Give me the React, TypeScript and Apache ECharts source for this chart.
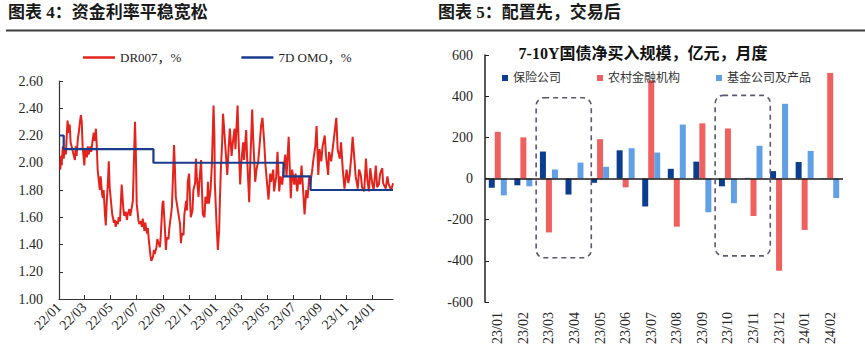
import React, { useEffect, useRef } from "react";
import * as echarts from "echarts";

const FONT = "'Times New Roman', 'Liberation Serif', 'Noto Sans CJK SC', serif";

const leftTitle = "图表 4：资金利率平稳宽松";
const rightTitle = "图表 5：配置先，交易后";
const rightSubtitle = "7-10Y国债净买入规模，亿元，月度";

const lineNames = ["DR007，%", "7D OMO，%"];
const xTickLabels = ["22/01", "22/03", "22/05", "22/07", "22/09", "22/11", "23/01", "23/03", "23/05", "23/07", "23/09", "23/11", "24/01"];
const xStart = "2022-01-01";
const xEnd = "2024-02-18";

const dr007: [string, number][] = [
  ["2022-01-04", 1.95], ["2022-01-06", 2.05], ["2022-01-07", 1.98], ["2022-01-10", 2.12], ["2022-01-12", 2.03],
  ["2022-01-14", 2.10], ["2022-01-17", 2.06], ["2022-01-19", 2.20], ["2022-01-21", 2.31], ["2022-01-24", 2.22],
  ["2022-01-26", 2.28], ["2022-01-28", 2.15], ["2022-02-07", 2.02], ["2022-02-09", 2.12], ["2022-02-11", 2.05],
  ["2022-02-14", 2.18], ["2022-02-16", 2.22], ["2022-02-18", 2.28], ["2022-02-21", 2.35], ["2022-02-23", 2.30],
  ["2022-02-25", 2.12], ["2022-03-01", 1.98], ["2022-03-03", 2.10], ["2022-03-07", 2.04], ["2022-03-09", 2.12],
  ["2022-03-11", 2.06], ["2022-03-15", 2.12], ["2022-03-17", 2.08], ["2022-03-21", 2.18], ["2022-03-23", 2.22],
  ["2022-03-25", 2.16], ["2022-03-28", 2.25], ["2022-03-30", 2.12], ["2022-04-01", 1.95], ["2022-04-06", 1.80],
  ["2022-04-08", 1.90], ["2022-04-11", 1.78], ["2022-04-13", 1.74], ["2022-04-15", 1.80], ["2022-04-18", 1.62],
  ["2022-04-20", 1.54], ["2022-04-22", 1.70], ["2022-04-25", 1.86], ["2022-04-27", 2.01], ["2022-04-29", 1.82],
  ["2022-05-05", 1.62], ["2022-05-09", 1.56], ["2022-05-11", 1.58], ["2022-05-13", 1.53], ["2022-05-16", 1.57],
  ["2022-05-18", 1.55], ["2022-05-20", 1.60], ["2022-05-23", 1.57], ["2022-05-25", 1.70], ["2022-05-27", 1.84],
  ["2022-05-31", 1.66], ["2022-06-02", 1.61], ["2022-06-06", 1.64], ["2022-06-08", 1.58], ["2022-06-10", 1.62],
  ["2022-06-14", 1.66], ["2022-06-16", 1.61], ["2022-06-20", 1.68], ["2022-06-22", 1.72], ["2022-06-24", 1.95],
  ["2022-06-27", 2.30], ["2022-06-29", 2.08], ["2022-07-01", 1.70], ["2022-07-05", 1.58], ["2022-07-07", 1.55],
  ["2022-07-11", 1.57], ["2022-07-13", 1.53], ["2022-07-15", 1.59], ["2022-07-19", 1.50], ["2022-07-21", 1.56],
  ["2022-07-25", 1.48], ["2022-07-27", 1.52], ["2022-07-29", 1.44], ["2022-08-02", 1.32], ["2022-08-04", 1.28],
  ["2022-08-08", 1.31], ["2022-08-10", 1.36], ["2022-08-12", 1.33], ["2022-08-16", 1.38], ["2022-08-18", 1.44],
  ["2022-08-22", 1.40], ["2022-08-24", 1.38], ["2022-08-26", 1.46], ["2022-08-30", 1.70], ["2022-09-01", 1.72],
  ["2022-09-05", 1.50], ["2022-09-07", 1.36], ["2022-09-09", 1.45], ["2022-09-13", 1.44], ["2022-09-15", 1.52],
  ["2022-09-19", 1.62], ["2022-09-21", 1.68], ["2022-09-23", 1.85], ["2022-09-26", 2.13], ["2022-09-28", 1.96],
  ["2022-09-30", 1.75], ["2022-10-10", 1.55], ["2022-10-12", 1.41], ["2022-10-14", 1.48], ["2022-10-18", 1.47],
  ["2022-10-20", 1.62], ["2022-10-24", 1.72], ["2022-10-26", 1.65], ["2022-10-28", 1.86], ["2022-10-31", 1.92],
  ["2022-11-02", 1.75], ["2022-11-04", 1.60], ["2022-11-08", 1.65], ["2022-11-10", 1.80], ["2022-11-14", 1.85],
  ["2022-11-16", 2.03], ["2022-11-18", 1.90], ["2022-11-22", 1.75], ["2022-11-24", 1.86], ["2022-11-28", 2.02],
  ["2022-11-30", 1.80], ["2022-12-02", 1.62], ["2022-12-06", 1.60], ["2022-12-08", 1.75], ["2022-12-12", 1.70],
  ["2022-12-14", 1.86], ["2022-12-16", 1.70], ["2022-12-20", 1.80], ["2022-12-23", 1.98], ["2022-12-27", 2.42],
  ["2022-12-29", 2.20], ["2022-12-30", 1.85], ["2023-01-03", 1.55], ["2023-01-06", 1.36], ["2023-01-09", 1.50],
  ["2023-01-11", 1.75], ["2023-01-13", 1.95], ["2023-01-16", 2.15], ["2023-01-18", 2.36], ["2023-01-20", 2.28],
  ["2023-01-28", 1.91], ["2023-01-31", 2.10], ["2023-02-03", 2.25], ["2023-02-07", 2.05], ["2023-02-10", 2.15],
  ["2023-02-14", 2.25], ["2023-02-16", 2.10], ["2023-02-21", 2.42], ["2023-02-23", 2.20], ["2023-02-27", 1.84],
  ["2023-03-01", 1.98], ["2023-03-06", 2.15], ["2023-03-08", 2.02], ["2023-03-13", 2.24], ["2023-03-15", 2.05],
  ["2023-03-20", 1.71], ["2023-03-22", 1.95], ["2023-03-27", 2.39], ["2023-03-29", 2.20], ["2023-04-03", 1.86],
  ["2023-04-06", 1.95], ["2023-04-10", 2.01], ["2023-04-13", 2.12], ["2023-04-17", 2.28], ["2023-04-20", 2.33],
  ["2023-04-24", 2.15], ["2023-04-27", 1.98], ["2023-05-04", 1.73], ["2023-05-08", 1.92], ["2023-05-10", 1.86],
  ["2023-05-15", 1.95], ["2023-05-17", 1.79], ["2023-05-22", 1.90], ["2023-05-25", 2.08], ["2023-05-29", 1.79],
  ["2023-06-01", 1.90], ["2023-06-05", 1.84], ["2023-06-08", 1.95], ["2023-06-12", 2.06], ["2023-06-15", 1.90],
  ["2023-06-20", 2.19], ["2023-06-25", 1.74], ["2023-06-28", 1.95], ["2023-07-03", 1.84], ["2023-07-06", 1.92],
  ["2023-07-10", 1.79], ["2023-07-13", 1.90], ["2023-07-17", 1.84], ["2023-07-20", 1.98], ["2023-07-24", 1.78],
  ["2023-07-27", 1.62], ["2023-07-31", 1.80], ["2023-08-03", 1.74], ["2023-08-07", 1.90], ["2023-08-09", 1.84],
  ["2023-08-14", 1.95], ["2023-08-16", 2.01], ["2023-08-21", 2.12], ["2023-08-24", 2.27], ["2023-08-28", 1.91],
  ["2023-08-31", 2.10], ["2023-09-04", 2.01], ["2023-09-07", 2.12], ["2023-09-12", 2.20], ["2023-09-15", 2.05],
  ["2023-09-20", 1.91], ["2023-09-22", 2.08], ["2023-09-27", 2.01], ["2023-10-09", 2.33], ["2023-10-12", 2.10],
  ["2023-10-17", 2.03], ["2023-10-20", 2.15], ["2023-10-24", 1.95], ["2023-10-28", 1.81], ["2023-11-02", 1.95],
  ["2023-11-06", 1.85], ["2023-11-09", 1.91], ["2023-11-13", 2.05], ["2023-11-16", 2.19], ["2023-11-20", 2.03],
  ["2023-11-23", 1.90], ["2023-11-28", 1.81], ["2023-12-01", 1.95], ["2023-12-05", 1.91], ["2023-12-08", 1.82],
  ["2023-12-13", 1.79], ["2023-12-17", 2.03], ["2023-12-20", 1.88], ["2023-12-24", 1.79], ["2023-12-27", 1.96],
  ["2024-01-01", 1.84], ["2024-01-04", 1.80], ["2024-01-09", 1.98], ["2024-01-12", 1.82], ["2024-01-16", 1.84],
  ["2024-01-19", 1.92], ["2024-01-24", 1.96], ["2024-01-26", 1.85], ["2024-02-01", 1.81], ["2024-02-05", 1.90],
  ["2024-02-08", 1.84], ["2024-02-14", 1.80], ["2024-02-18", 1.85],
];

const omo7d: [string, number][] = [
  ["2022-01-01", 2.2], ["2022-01-12", 2.1], ["2022-08-09", 2.0], ["2023-06-08", 1.9], ["2023-08-10", 1.8], ["2024-02-18", 1.8],
];

const barNames = ["保险公司", "农村金融机构", "基金公司及产品"];
const months = ["23/01", "23/02", "23/03", "23/04", "23/05", "23/06", "23/07", "23/08", "23/09", "23/10", "23/11", "23/12", "24/01", "24/02"];
const insurance = [-45, -33, 131, -78, -21, 137, -136, 47, 82, -38, 3, 36, 80, -2];
const rural = [227, 200, -262, -5, 191, -43, 477, -234, 268, 243, -182, -448, -250, 513];
const fund = [-82, -38, 44, 77, 57, 147, 126, 262, -164, -120, 159, 363, 134, -95];

const highlightBoxes = [
  { from: "23/03", to: "23/04", top: 392, bottom: -385 },
  { from: "23/10", to: "23/11", top: 404, bottom: -376 },
];

const ts = (s: string) => {
  const [y, m, d] = s.split("-").map(Number);
  return new Date(y, m - 1, d).getTime();
};
const tickTime = (lab: string) => {
  const [yy, mm] = lab.split("/").map(Number);
  return new Date(2000 + yy, mm - 1, 1).getTime();
};
const fmtTick = (v: number) => {
  const d = new Date(v);
  return String(d.getFullYear()).slice(2) + "/" + String(d.getMonth() + 1).padStart(2, "0");
};

export default function App() {
  const ref = useRef<HTMLDivElement>(null);
  useEffect(() => {
    if (!ref.current) return;
    const chart = echarts.init(ref.current, undefined, { renderer: "svg" });
    const textColor = "#262626";
    const tickVals = xTickLabels.map(tickTime);
    const baseGraphic: any[] = [
      { type: "text", left: 8, top: 4, style: { text: leftTitle, fontSize: 17, fontWeight: "bold", fontFamily: FONT, fill: "#1a1a1a" } },
      { type: "text", left: 438, top: 4, style: { text: rightTitle, fontSize: 17, fontWeight: "bold", fontFamily: FONT, fill: "#1a1a1a" } },
      { type: "line", shape: { x1: 6, y1: 30.5, x2: 865, y2: 30.5 }, style: { stroke: "#3c3c3c", lineWidth: 2 } },
      { type: "text", x: 643, y: 53, style: { text: rightSubtitle, fontSize: 16, fontWeight: "bold", fontFamily: FONT, fill: "#111", align: "center", verticalAlign: "middle" } },
    ];
    const option: any = {
      animation: false,
      textStyle: { fontFamily: FONT },
      grid: [
        { left: 59, top: 81, width: 334, height: 218 },
        { left: 485, top: 55, width: 358, height: 247 },
      ],
      legend: [
        {
          data: lineNames, left: 78, top: 46, itemWidth: 32, itemHeight: 2.5, itemGap: 60, icon: "rect",
          textStyle: { fontSize: 13, color: textColor, fontFamily: FONT },
        },
        {
          data: barNames, left: 497, top: 67, itemWidth: 6, itemHeight: 6, itemGap: 36, icon: "rect",
          textStyle: { fontSize: 12, color: "#333", fontFamily: FONT },
        },
      ],
      xAxis: [
        {
          type: "value", gridIndex: 0, min: ts(xStart), max: ts(xEnd),
          axisLine: { lineStyle: { color: "#333", width: 1.2 } },
          axisTick: { show: true, inside: true, length: 4, customValues: tickVals, lineStyle: { color: "#333" } },
          axisLabel: {
            customValues: tickVals, rotate: 45, fontSize: 14, color: textColor, margin: 6, fontFamily: FONT,
            formatter: (v: number) => fmtTick(v),
          },
          splitLine: { show: false },
        },
        {
          type: "category", gridIndex: 1, data: months,
          axisLine: { show: false, onZero: false },
          axisTick: { show: false },
          axisLabel: { rotate: 90, fontSize: 14, color: textColor, margin: 10, fontFamily: FONT },
        },
      ],
      yAxis: [
        {
          type: "value", gridIndex: 0, min: 1, max: 2.6, interval: 0.2,
          axisLine: { show: true, lineStyle: { color: "#333", width: 1.2 } },
          axisTick: { show: true, inside: true, length: 4, lineStyle: { color: "#333" } },
          axisLabel: { fontSize: 14, color: textColor, margin: 16, fontFamily: FONT, formatter: (v: number) => v.toFixed(2) },
          splitLine: { show: false },
        },
        {
          type: "value", gridIndex: 1, min: -600, max: 600, interval: 200,
          axisLine: { show: true, lineStyle: { color: "#222", width: 1.5 } },
          axisTick: { show: true, inside: true, length: 4, lineStyle: { color: "#222" } },
          axisLabel: { fontSize: 14, color: textColor, margin: 12, fontFamily: FONT },
          splitLine: { show: false },
        },
      ],
      series: [
        {
          name: lineNames[0], type: "line", xAxisIndex: 0, yAxisIndex: 0, data: dr007.map(([d, v]) => [ts(d), v]), symbol: "none",
          lineStyle: { color: "#E3231C", width: 2 }, itemStyle: { color: "#E3231C" },
        },
        {
          name: lineNames[1], type: "line", xAxisIndex: 0, yAxisIndex: 0, data: omo7d.map(([d, v]) => [ts(d), v]), symbol: "none", step: "end",
          lineStyle: { color: "#1B3B8D", width: 2.2 }, itemStyle: { color: "#1B3B8D" },
        },
        {
          name: barNames[0], type: "bar", xAxisIndex: 1, yAxisIndex: 1, data: insurance, barWidth: 6, barGap: "0%",
          itemStyle: { color: "#0B3E8E" },
          markLine: {
            silent: true, symbol: ["none", "none"], label: { show: false },
            lineStyle: { color: "#1a1a1a", width: 1.5, type: "solid" }, data: [{ yAxis: 0 }],
          },
        },
        {
          name: barNames[1], type: "bar", xAxisIndex: 1, yAxisIndex: 1, data: rural, barWidth: 6, barGap: "0%",
          itemStyle: { color: "#F0605F" },
        },
        {
          name: barNames[2], type: "bar", xAxisIndex: 1, yAxisIndex: 1, data: fund, barWidth: 6, barGap: "0%",
          itemStyle: { color: "#62A0E6" },
        },
      ],
      graphic: baseGraphic,
    };
    chart.setOption(option);

    try {
      const rects = highlightBoxes.map((b) => {
        const i0 = months.indexOf(b.from);
        const i1 = months.indexOf(b.to);
        const p0 = chart.convertToPixel({ xAxisIndex: 1, yAxisIndex: 1 } as any, [i0, b.top]) as number[];
        const p1 = chart.convertToPixel({ xAxisIndex: 1, yAxisIndex: 1 } as any, [i1, b.bottom]) as number[];
        const pn = chart.convertToPixel({ xAxisIndex: 1, yAxisIndex: 1 } as any, [i0 + 1, 0]) as number[];
        const band = pn[0] - p0[0];
        const x = p0[0] - band / 2;
        const w = p1[0] + band / 2 + 4 - x;
        return {
          type: "rect",
          shape: { x, y: p0[1], width: w, height: p1[1] - p0[1], r: 8 },
          style: { fill: "none", stroke: "#5E5575", lineWidth: 1.6, lineDash: [5, 4] },
          z: 10,
        };
      });
      chart.setOption({ graphic: [...baseGraphic, ...rects] });
    } catch (e) {
      console.error(e);
    }

    return () => chart.dispose();
  }, []);
  return <div ref={ref} style={{ position: "absolute", left: 0, top: 0, width: 865, height: 354 }} />;
}
